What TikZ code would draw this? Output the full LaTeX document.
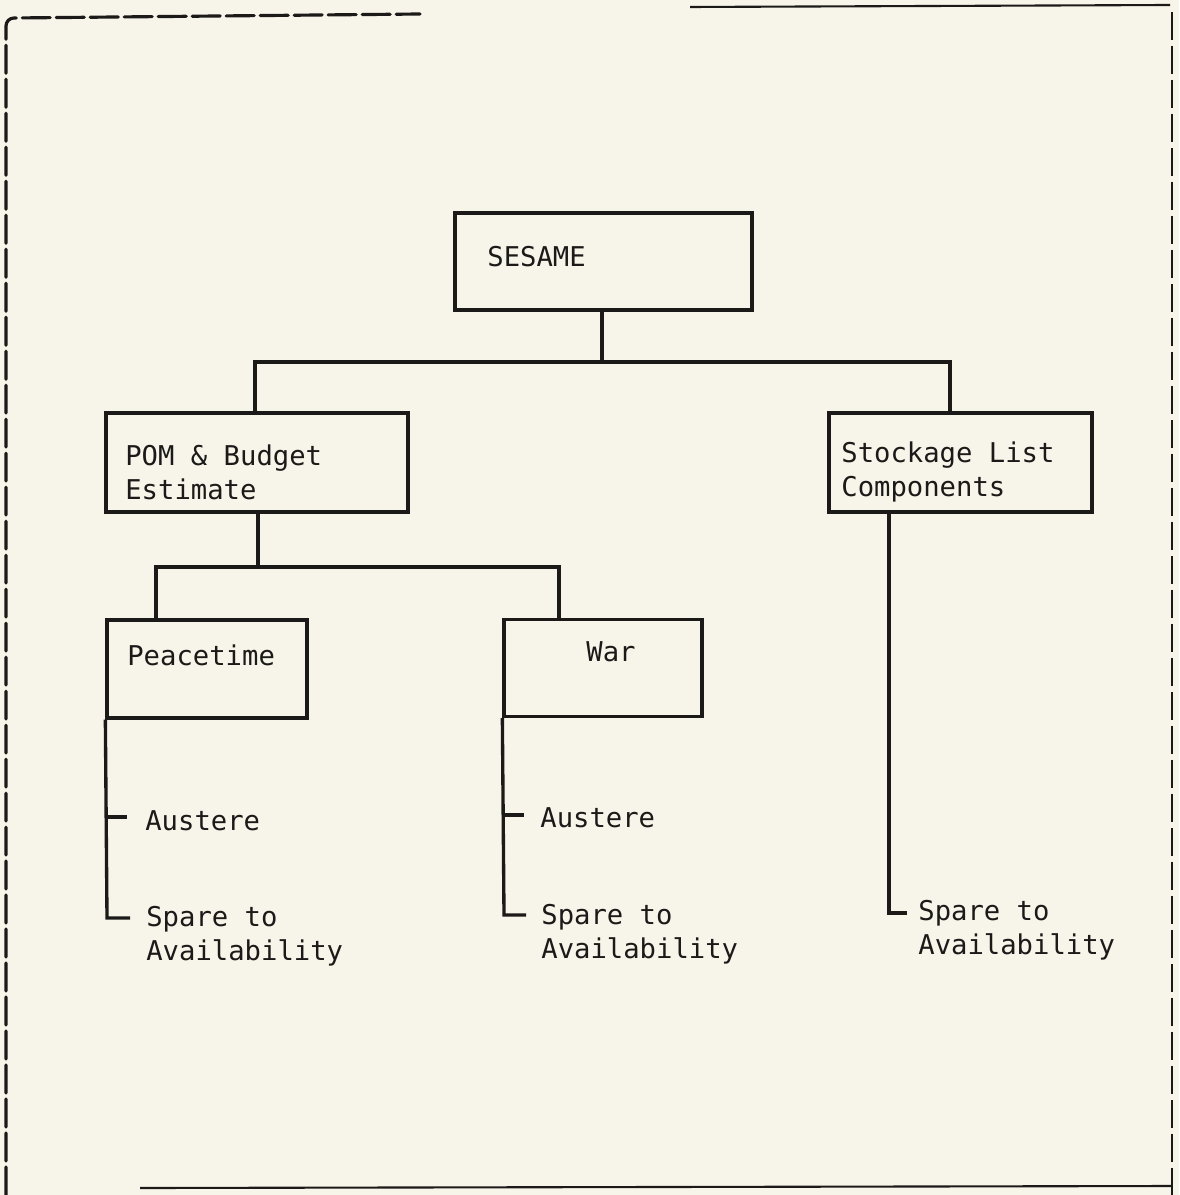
\documentclass[tikz,border=0pt]{standalone}
\usepackage{fontspec}
\newfontfamily\tw{DejaVu Sans Mono}
\definecolor{inkc}{HTML}{1C1A18}
\definecolor{paper}{HTML}{F7F5E9}
\begin{document}
\begin{tikzpicture}[x=0.02cm,y=-0.02cm,
  box/.style={draw=inkc,line width=1.9pt,rectangle,inner sep=0pt},
  txt/.style={inner sep=0pt,anchor=base west,align=left,text=inkc,
    font=\tw\fontsize{15.5}{19.3}\selectfont},
  wire/.style={draw=inkc,line width=1.9pt},
  frame/.style={draw=inkc,line width=1.8pt,dash pattern=on 0.56cm off 0.12cm},
  framesolid/.style={draw=inkc,line width=1.2pt}]
\fill[paper] (0,0) rectangle (1179,1195);
\useasboundingbox (0,0) rectangle (1179,1195);
% outer frame
\draw[frame,line cap=round] (6,1195) -- (6,26) to[out=90,in=180] (14,18) -- (420,14);
\draw[framesolid] (690,7) -- (1170,5);
\draw[frame,line width=1.3pt] (1172,12) -- (1172,1195);
\draw[framesolid] (140,1188) -- (1172,1186);
% boxes
\node[box,minimum width=5.94cm,minimum height=1.94cm] (sesame) at (603.5,261.5) {};
\node[box,minimum width=6.04cm,minimum height=1.98cm] (pom) at (257,462.5) {};
\node[box,minimum width=5.26cm,minimum height=1.98cm] (stock) at (960.5,462.5) {};
\node[box,minimum width=4.00cm,minimum height=1.96cm] (peace) at (207,669) {};
\node[box,minimum width=3.96cm,minimum height=1.94cm] (war) at (603,668) {};
% box texts (base = last line)
\node[txt] (tsesame) at (487,267) {SESAME};
\node[txt] (tpom) at (125,499) {POM \& Budget\\Estimate};
\node[txt] (tstock) at (841,496) {Stockage List\\Components};
\node[txt] (tpeace) at (127,665) {Peacetime};
\node[txt] (twar) at (586,661) {War};
% leaf texts
\node[txt] (aus1) at (145,830) {Austere};
\node[txt] (spa1) at (146,960) {Spare to\\Availability};
\node[txt] (aus2) at (540,827) {Austere};
\node[txt] (spa2) at (541,958) {Spare to\\Availability};
\node[txt] (spa3) at (918,954) {Spare to\\Availability};
% tree connectors
\coordinate (j1) at (602,362);
\coordinate (j1l) at (255,362);
\coordinate (j1r) at (950,362);
\draw[wire] (sesame.south -| j1) -- (j1);
\draw[wire] (pom.north -| j1l) -- (j1l) -- (j1r) -- (stock.north -| j1r);
\coordinate (j2) at (258,567);
\coordinate (j2l) at (156,567);
\coordinate (j2r) at (559,567);
\draw[wire] (pom.south -| j2) -- (j2);
\draw[wire] (peace.north -| j2l) -- (j2l) -- (j2r) -- (war.north -| j2r);
% brackets
\coordinate (b1) at (107,918);
\draw[wire] (peace.south west) -- (b1) -- (130,918);
\draw[wire] (107,817) -- (127,817);
\coordinate (b2) at (504,915);
\draw[wire] (war.south west) -- (b2) -- (526,915);
\draw[wire] (504,815) -- (524,815);
\coordinate (b3) at (889,913);
\draw[wire] (stock.south -| b3) -- (b3) -- (907,913);
\end{tikzpicture}
\end{document}
